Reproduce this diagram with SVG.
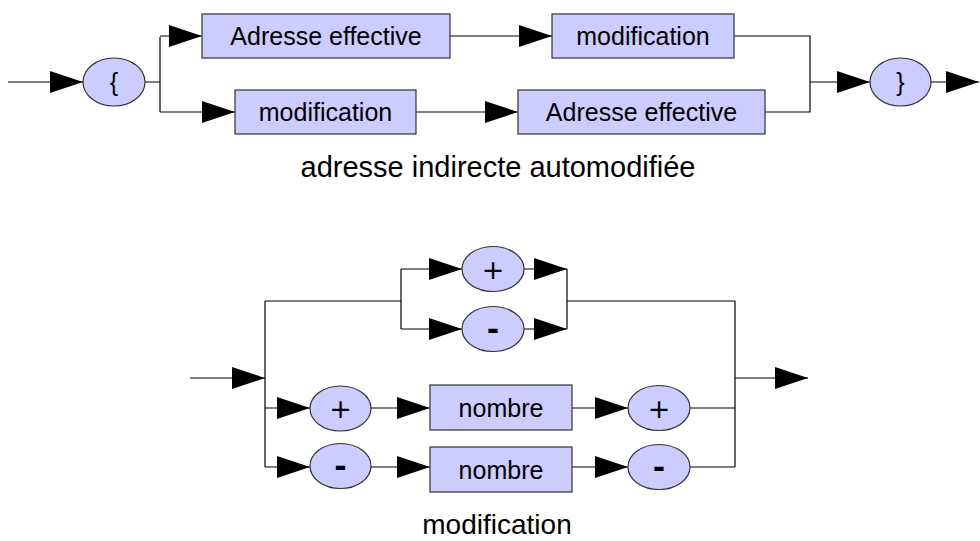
<svg xmlns="http://www.w3.org/2000/svg" width="980" height="541" viewBox="0 0 980 541">
<style>
.n{fill:#ccccff;stroke:#333;stroke-width:1.2}
.t{font-family:"Liberation Sans",Arial,sans-serif;font-size:25px;fill:#000;text-anchor:middle;dominant-baseline:central}
.s{font-family:"DejaVu Sans",sans-serif;font-size:27px;fill:#000;text-anchor:middle;dominant-baseline:central}
.m{font-family:"DejaVu Sans",sans-serif;font-size:30px;font-weight:bold;fill:#000;text-anchor:middle;dominant-baseline:central}
.cap{font-family:"Liberation Sans",Arial,sans-serif;font-size:28px;fill:#000;text-anchor:middle}
.c path{fill:none;stroke:#000;stroke-width:1.2}
</style>
<defs>
<marker id="a" markerUnits="userSpaceOnUse" markerWidth="34" markerHeight="24" refX="33" refY="11" orient="auto" viewBox="0 0 34 24">
<path d="M0,0 L33,11 L0,22 z" fill="#000"/>
</marker>
</defs>
<rect width="980" height="541" fill="#fff"/>
<g class="c" id="connectors">
<path d="M8,82 H83" marker-end="url(#a)"/>
<path d="M145,82 H160 M160,37 V112"/>
<path d="M160,36 H202" marker-end="url(#a)"/>
<path d="M160,112 H235" marker-end="url(#a)"/>
<path d="M450,36 H552" marker-end="url(#a)"/>
<path d="M416,112 H518" marker-end="url(#a)"/>
<path d="M734,36 H810 V112 H765"/>
<path d="M810,82 H870" marker-end="url(#a)"/>
<path d="M931,82 H979" marker-end="url(#a)"/>
<path d="M190,378 H265" marker-end="url(#a)"/>
<path d="M265,301 V467 M265,301 H401 M401,269 V329"/>
<path d="M401,269 H462" marker-end="url(#a)"/>
<path d="M401,329 H462" marker-end="url(#a)"/>
<path d="M524,269 H567" marker-end="url(#a)"/>
<path d="M524,329 H567" marker-end="url(#a)"/>
<path d="M567,269 V329 M567,301 H735 V467"/>
<path d="M735,378 H808" marker-end="url(#a)"/>
<path d="M265,408 H310" marker-end="url(#a)"/>
<path d="M371,408 H430" marker-end="url(#a)"/>
<path d="M572,408 H628" marker-end="url(#a)"/>
<path d="M690,408 H735"/>
<path d="M265,467 H310" marker-end="url(#a)"/>
<path d="M371,467 H430" marker-end="url(#a)"/>
<path d="M572,467 H628" marker-end="url(#a)"/>
<path d="M690,467 H735"/>
</g>
<g id="open"><ellipse class="n" cx="114" cy="82" rx="31" ry="24"/><text class="t" x="114" y="82">{</text></g>
<g id="ae1"><rect class="n" x="202" y="14" width="248" height="44"/><text class="t" x="326" y="36">Adresse effective</text></g>
<g id="mod1"><rect class="n" x="552" y="14" width="182" height="44"/><text class="t" x="643" y="36">modification</text></g>
<g id="mod2"><rect class="n" x="235" y="90" width="181" height="44"/><text class="t" x="325.5" y="112">modification</text></g>
<g id="ae2"><rect class="n" x="518" y="90" width="247" height="44"/><text class="t" x="641.5" y="112">Adresse effective</text></g>
<g id="close"><ellipse class="n" cx="900.5" cy="82" rx="30.5" ry="24"/><text class="t" x="900.5" y="82">}</text></g>
<g id="cap1"><text class="cap" x="498" y="177" style="font-size:29px">adresse indirecte automodifiée</text></g>
<g id="plus1"><ellipse class="n" cx="493" cy="269" rx="31" ry="22.5"/><text class="s" x="493" y="269">+</text></g>
<g id="minus1"><ellipse class="n" cx="493" cy="329" rx="31" ry="22.5"/><text class="m" x="493" y="329">-</text></g>
<g id="plus2"><ellipse class="n" cx="340.5" cy="408.5" rx="30.5" ry="22.5"/><text class="s" x="340.5" y="408.5">+</text></g>
<g id="nombre1"><rect class="n" x="430" y="385" width="142" height="45"/><text class="t" x="501" y="407.5">nombre</text></g>
<g id="plus3"><ellipse class="n" cx="659" cy="408" rx="31" ry="22.5"/><text class="s" x="659" y="408">+</text></g>
<g id="minus2"><ellipse class="n" cx="340.5" cy="466" rx="30.5" ry="22.5"/><text class="m" x="340.5" y="466">-</text></g>
<g id="nombre2"><rect class="n" x="430" y="447" width="142" height="45"/><text class="t" x="501" y="469.5">nombre</text></g>
<g id="minus3"><ellipse class="n" cx="659" cy="467" rx="31" ry="22.5"/><text class="m" x="659" y="467">-</text></g>
<g id="cap2"><text class="cap" x="497" y="534">modification</text></g>
</svg>
